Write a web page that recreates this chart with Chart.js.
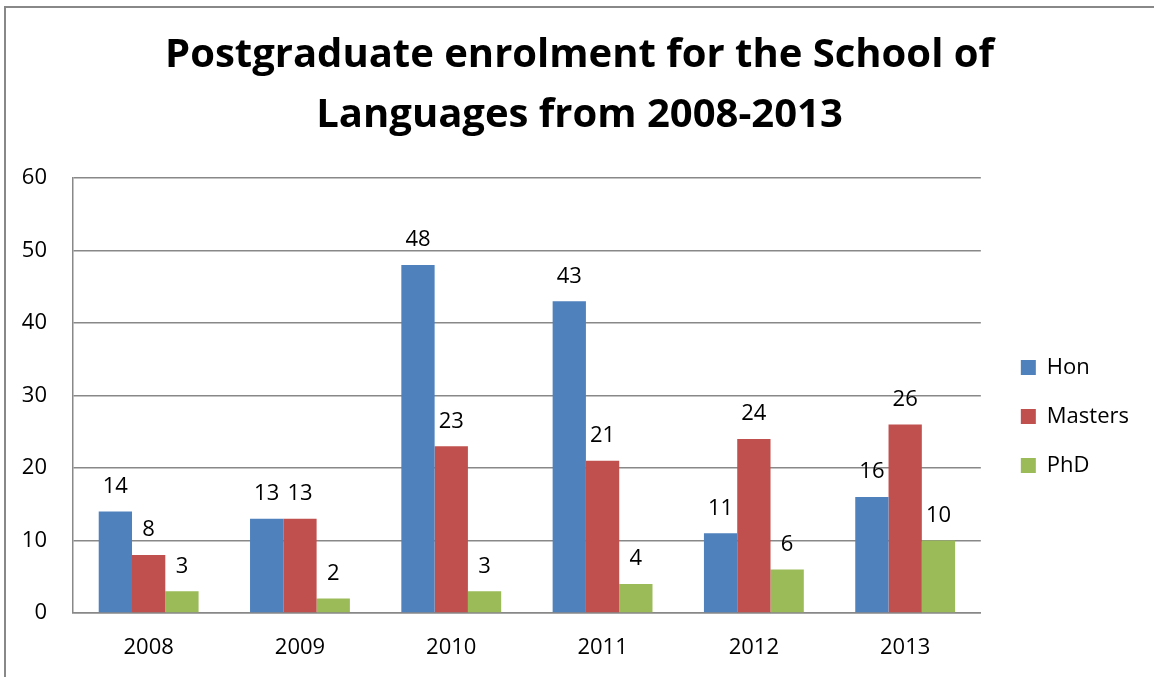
<!DOCTYPE html>
<html>
<head>
<meta charset="utf-8">
<script src="https://cdn.jsdelivr.net/npm/chart.js@4.4.1/dist/chart.umd.min.js"></script>
<style>
  html, body { margin: 0; padding: 0; background: #fff; }
  #wrap { position: relative; width: 1154px; height: 677px; overflow: hidden; }
  #c { position: absolute; left: 0; top: 0; }
  .bl { position: absolute; left: 4px; top: 6px; width: 2px; height: 671px; background: #888; }
  .bt { position: absolute; left: 4px; top: 6px; width: 1150px; height: 2px; background: #888; }
</style>
</head>
<body>
<div id="wrap">
  <canvas id="c" width="1154" height="677"></canvas>
  <div class="bl"></div>
  <div class="bt"></div>
</div>
<script>
const titleLines = ["Postgraduate enrolment for the School of", "Languages from 2008-2013"];
const categories = ["2008", "2009", "2010", "2011", "2012", "2013"];
const seriesNames = ["Hon", "Masters", "PhD"];
const honValues = [14, 13, 48, 43, 11, 16];
const mastersValues = [8, 13, 23, 21, 24, 26];
const phdValues = [3, 2, 3, 4, 6, 10];
const seriesColors = ["#4F81BD", "#C0504D", "#9BBB59"];
const yMin = 0, yMax = 60, yStep = 10;

const FONT = "'Open Sans', Lato, sans-serif";

const valueLabels = {
  id: 'valueLabels',
  afterDatasetsDraw(chart) {
    const ctx = chart.ctx;
    ctx.save();
    ctx.font = "22px " + FONT;
    ctx.fillStyle = "#000";
    ctx.textAlign = "center";
    ctx.textBaseline = "middle";
    chart.data.datasets.forEach((ds, i) => {
      const meta = chart.getDatasetMeta(i);
      meta.data.forEach((el, j) => {
        ctx.fillText(String(ds.data[j]), el.x, el.y - 25);
      });
    });
    ctx.restore();
  }
};

const seriesValues = [honValues, mastersValues, phdValues];

new Chart(document.getElementById('c'), {
  type: 'bar',
  data: {
    labels: categories,
    datasets: seriesNames.map((n, i) => ({
      label: n,
      data: seriesValues[i],
      backgroundColor: seriesColors[i],
      borderWidth: 0,
      categoryPercentage: 0.66,
      barPercentage: 1.0
    }))
  },
  options: {
    responsive: false,
    animation: false,
    devicePixelRatio: 1,
    layout: { padding: { left: 20, right: 15, top: 0, bottom: 0 } },
    plugins: {
      title: {
        display: true,
        text: titleLines,
        color: "#000",
        font: { family: FONT, size: 40, weight: 'bold', lineHeight: 1.5 },
        padding: { top: 26, bottom: 32 }
      },
      legend: {
        display: true,
        position: 'right',
        align: 'center',
        fullSize: false,
        title: { display: true, text: ' ', font: { size: 1, lineHeight: 1 }, padding: { top: 0, bottom: 41 } },
        labels: {
          color: "#000",
          font: { family: FONT, size: 22 },
          boxWidth: 15,
          boxHeight: 15,
          padding: 27
        }
      },
      tooltip: { enabled: false }
    },
    scales: {
      x: {
        grid: { display: false, drawTicks: false },
        border: { display: true, color: "#888", width: 1.5 },
        ticks: { color: "#000", font: { family: FONT, size: 22 }, padding: 22 },
        afterFit(s) { s.height = 64; s.paddingLeft = 0; s.paddingRight = 0; }
      },
      y: {
        min: yMin, max: yMax,
        grid: { color: "#888", lineWidth: 1.5, drawTicks: false },
        border: { display: true, color: "#888", width: 1.5 },
        ticks: { stepSize: yStep, color: "#000", font: { family: FONT, size: 22 }, padding: 26 },
        afterFit(s) { s.width = 53; }
      },
      yR: {
        position: 'right',
        display: true,
        grid: { display: false, drawTicks: false },
        border: { display: false },
        ticks: { display: false },
        afterFit(s) { s.width = 13; }
      }
    }
  },
  plugins: [valueLabels]
});
</script>
</body>
</html>
